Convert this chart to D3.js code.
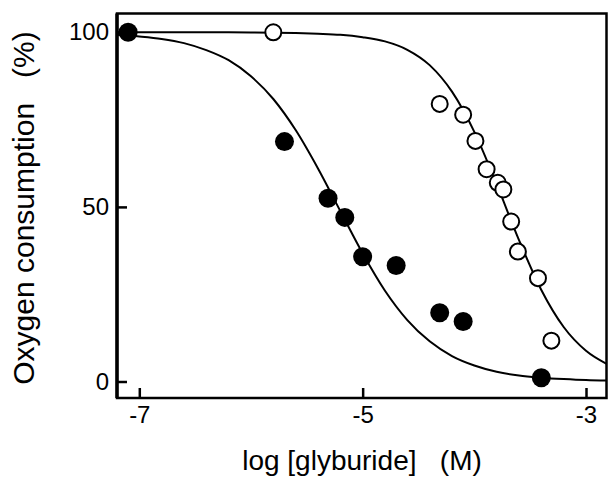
<!DOCTYPE html>
<html>
<head>
<meta charset="utf-8">
<script src="https://cdn.jsdelivr.net/npm/d3@7"></script>
<style>
  html, body { margin: 0; padding: 0; background: #fff; }
  svg { display: block; font-family: "Liberation Sans", Arial, sans-serif; }
</style>
</head>
<body>
<div id="chart"></div>
<script>
// Glyburide dose-response: oxygen consumption (%) vs log [glyburide] (M)

const X_TICKS = [-7, -5, -3];
const Y_TICKS = [0, 50, 100];

// filled circles
const filledLogC = [-7.10, -5.70, -5.31, -5.16, -5.00, -4.70, -4.31, -4.10, -3.40];
const filledPct  = [100.0, 68.7, 52.5, 47.0, 35.7, 33.2, 19.7, 17.2, 1.1];

// open circles
const openLogC = [-5.80, -4.31, -4.10, -3.99, -3.89, -3.79, -3.74, -3.67, -3.61, -3.43, -3.31];
const openPct  = [100.0, 79.5, 76.4, 68.9, 60.8, 56.9, 55.0, 45.8, 37.2, 29.6, 11.7];

// fitted curves
const curveLogC = [-7.2, -7.0, -6.8, -6.6, -6.4, -6.2, -6.0, -5.8, -5.6, -5.4, -5.2, -5.0,
                   -4.8, -4.6, -4.4, -4.2, -4.0, -3.8, -3.6, -3.4, -3.2, -3.0, -2.8];
const filledFit = [99.3, 98.8, 98.1, 96.9, 94.9, 92.0, 87.4, 80.9, 72.0, 61.0, 48.8, 36.7,
                   26.0, 17.6, 11.5, 7.3, 4.6, 2.8, 1.7, 1.1, 0.7, 0.4, 0.25];
const openFit   = [100, 100, 100, 100, 99.99, 99.98, 99.95, 99.9, 99.8, 99.6, 99.3, 98.6,
                   97.4, 95.0, 90.6, 83.0, 71.5, 56.5, 40.5, 26.2, 15.6, 8.8, 4.8];

const FRAME = { left: 117, right: 606.5, top: 13.5, bottom: 398 };

const svg = d3.select('#chart').append('svg')
  .attr('width', 608)
  .attr('height', 477);

const x = d3.scaleLinear().domain([-7, -3]).range([139.3, 586]);
const y = d3.scaleLinear().domain([0, 100]).range([381.5, 32.3]);

// clip to the frame
svg.append('clipPath').attr('id', 'plot-clip')
  .append('rect')
    .attr('x', FRAME.left).attr('y', FRAME.top)
    .attr('width', FRAME.right - FRAME.left)
    .attr('height', FRAME.bottom - FRAME.top);

// Axes (ticks point inward)
svg.append('g')
  .attr('transform', `translate(${FRAME.left},0)`)
  .call(d3.axisLeft(y).tickValues(Y_TICKS).tickSize(-10).tickPadding(8).tickFormat(d => String(d)))
  .call(ax => ax.select('.domain').remove())
  .call(ax => ax.selectAll('line').attr('stroke', '#000').attr('stroke-width', 2.5))
  .call(ax => ax.selectAll('text').attr('fill', '#000').style('font-size', '24px')
    .style('font-family', '"Liberation Sans", Arial, sans-serif'));

svg.append('g')
  .attr('transform', `translate(0,${FRAME.bottom})`)
  .call(d3.axisBottom(x).tickValues(X_TICKS).tickSize(-10).tickPadding(8).tickFormat(d => String(d)))
  .call(ax => ax.select('.domain').remove())
  .call(ax => ax.selectAll('line').attr('stroke', '#000').attr('stroke-width', 2.5))
  .call(ax => ax.selectAll('text').attr('fill', '#000').style('font-size', '24px')
    .style('font-family', '"Liberation Sans", Arial, sans-serif'));

// Frame
svg.append('rect')
  .attr('x', FRAME.left).attr('y', FRAME.top)
  .attr('width', FRAME.right - FRAME.left)
  .attr('height', FRAME.bottom - FRAME.top)
  .attr('fill', 'none').attr('stroke', '#000').attr('stroke-width', 2.5);
svg.append('line')
  .attr('x1', FRAME.left).attr('x2', FRAME.left)
  .attr('y1', FRAME.top).attr('y2', FRAME.bottom)
  .attr('stroke', '#000').attr('stroke-width', 3.5);

// Fitted curves
const plot = svg.append('g').attr('clip-path', 'url(#plot-clip)');
const line = d3.line()
  .x(d => x(d[0]))
  .y(d => y(d[1]))
  .curve(d3.curveMonotoneX);

[filledFit, openFit].forEach(fit => {
  plot.append('path')
    .datum(curveLogC.map((c, i) => [c, fit[i]]))
    .attr('d', line)
    .attr('fill', 'none')
    .attr('stroke', '#000')
    .attr('stroke-width', 2);
});

// Points
plot.selectAll('.pt-open')
  .data(openLogC.map((c, i) => [c, openPct[i]]))
  .join('circle')
    .attr('class', 'pt-open')
    .attr('cx', d => x(d[0]))
    .attr('cy', d => y(d[1]))
    .attr('r', 8)
    .attr('fill', '#fff')
    .attr('stroke', '#000')
    .attr('stroke-width', 2);

plot.selectAll('.pt-filled')
  .data(filledLogC.map((c, i) => [c, filledPct[i]]))
  .join('circle')
    .attr('class', 'pt-filled')
    .attr('cx', d => x(d[0]))
    .attr('cy', d => y(d[1]))
    .attr('r', 9.5)
    .attr('fill', '#000');

// Axis titles
svg.append('text')
  .attr('x', 362).attr('y', 470)
  .attr('text-anchor', 'middle')
  .style('font-size', '28px')
  .style('white-space', 'pre')
  .text('log [glyburide]   (M)');

svg.append('text')
  .attr('transform', 'translate(34,208) rotate(-90)')
  .attr('text-anchor', 'middle')
  .style('font-size', '30px')
  .style('white-space', 'pre')
  .text('Oxygen consumption   (%)');
</script>
</body>
</html>
